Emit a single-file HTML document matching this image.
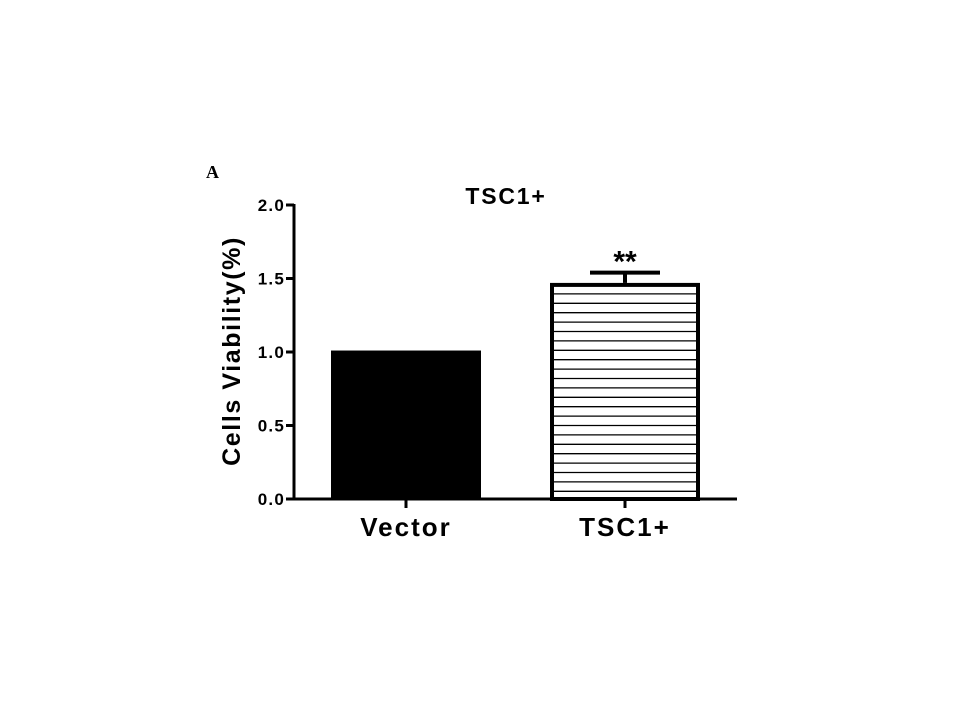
<!DOCTYPE html>
<html><head><meta charset="utf-8"><style>
body{margin:0;background:#fff;width:960px;height:720px;overflow:hidden}
text{font-family:"Liberation Sans",Arial,sans-serif;font-weight:bold}
</style></head><body>
<svg width="960" height="720">
<text x="206" y="178" style="font-family:'Liberation Serif',serif;font-size:18px">A</text>
<text x="506" y="204" text-anchor="middle" font-size="23" letter-spacing="1.8">TSC1+</text>
<text transform="translate(240,351) rotate(-90)" text-anchor="middle" font-size="25" letter-spacing="1.6">Cells Viability(%)</text>
<g id="plot"></g>
</svg>
<script>
const categories=["Vector","TSC1+"];
const values=[1.01,1.47];
const errors=[0,0.07];
const yTicks=[0,0.5,1.0,1.5,2.0];
const yTickLabels=["0.0","0.5","1.0","1.5","2.0"];
const NS="http://www.w3.org/2000/svg";
const g=document.getElementById('plot');
const x0=294,x1=737,yB=499,yT=205;
const y=v=>yB-(v/2)*(yB-yT);
const xc=i=>[406,625][i];
const bw=150;
function el(t,a){const e=document.createElementNS(NS,t);for(const k in a)e.setAttribute(k,a[k]);g.appendChild(e);return e;}
categories.forEach((c,i)=>{
 const l=xc(i)-bw/2,t=y(values[i]);
 if(i===0){
  const r=el('rect',{x:l,y:t,width:bw,height:yB-t,fill:'#000'});
  
  
 } else {
  const r=el('rect',{x:l+2,y:t+2,width:bw-4,height:yB-t-2,fill:'#fff',stroke:'#000','stroke-width':4});
  
  
  for(let yy=t+11;yy<yB-3;yy+=9.4){
   const ln=el('line',{x1:l+4,x2:l+bw-4,y1:yy,y2:yy,stroke:'#000','stroke-width':1.3});
   
   
  }
  const ey=y(values[i]+errors[i]);
  const e1=el('line',{x1:xc(i),x2:xc(i),y1:t,y2:ey,stroke:'#000','stroke-width':4});
  
  
  const e2=el('line',{x1:xc(i)-35,x2:xc(i)+35,y1:ey,y2:ey,stroke:'#000','stroke-width':4});
  
  
  const s=el('text',{x:xc(i),y:ey-1,'text-anchor':'middle','font-size':30,'font-weight':'normal'});
  s.textContent='**';
  
  
 }
 const tk=el('line',{x1:xc(i),x2:xc(i),y1:yB,y2:yB+9,stroke:'#000','stroke-width':3});
 
 
 const lb=el('text',{x:xc(i),y:536,'text-anchor':'middle','font-size':26,'letter-spacing':2});
 lb.textContent=c;
 
 
});
const ya=el('line',{x1:x0,x2:x0,y1:yT-1,y2:yB+1.5,stroke:'#000','stroke-width':3});


const xa=el('line',{x1:x0-1.5,x2:x1,y1:yB,y2:yB,stroke:'#000','stroke-width':3});


yTicks.forEach((v,i)=>{
 const t=el('line',{x1:x0-8,x2:x0,y1:y(v),y2:y(v),stroke:'#000','stroke-width':3});
 
 
 const l=el('text',{x:x0-9,y:y(v)+6,'text-anchor':'end','font-size':17,'letter-spacing':1.2});
 l.textContent=yTickLabels[i];
 
 
});
</script>
</body></html>
